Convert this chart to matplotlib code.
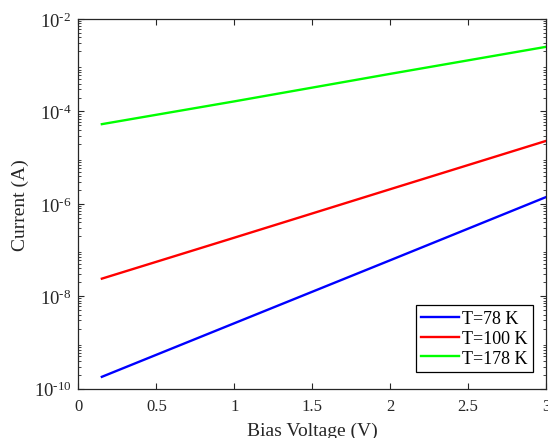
import matplotlib
matplotlib.use("Agg")
import matplotlib.pyplot as plt

# Values (log-scale current vs bias voltage)
voltage = [0.15, 1.0, 2.0, 3.0]
current_78K = [1.8e-10, 2.6e-9, 6.0e-8, 1.4e-6]
current_100K = [2.4e-8, 1.85e-7, 2.07e-6, 2.3e-5]
current_178K = [5.3e-5, 1.65e-4, 6.5e-4, 2.5e-3]
labels = ["T=78 K", "T=100 K", "T=178 K"]
colors = ["#0000ff", "#ff0000", "#00ff00"]
ytick_vals = [1e-10, 1e-8, 1e-6, 1e-4, 1e-2]
ytick_labels = ["$10^{\\text{-10}}$", "$10^{\\text{-8}}$", "$10^{\\text{-6}}$",
                "$10^{\\text{-4}}$", "$10^{\\text{-2}}$"]
xtick_vals = [0, 0.5, 1, 1.5, 2, 2.5, 3]
xtick_labels = ["0", "0.5", "1", "1.5", "2", "2.5", "3"]

plt.rcParams["font.family"] = ["Liberation Serif", "DejaVu Serif"]
plt.rcParams["mathtext.fontset"] = "custom"
plt.rcParams["mathtext.rm"] = "Liberation Serif"
plt.rcParams["mathtext.it"] = "Liberation Serif:italic"
plt.rcParams["mathtext.bf"] = "Liberation Serif:bold"

fig = plt.figure(figsize=(5.48, 4.39), dpi=100)
ax = fig.add_axes([0.1432, 0.1125, 0.8532, 0.8419])

for ys, lab, c in zip([current_78K, current_100K, current_178K], labels, colors):
    ax.plot(voltage, ys, color=c, linewidth=1.7, label=lab)

ax.set_yscale("log")
ax.set_xlim(0, 3)
ax.set_ylim(1e-10, 1e-2)
ax.set_yticks(ytick_vals)
ax.set_yticklabels(ytick_labels)
ax.set_xticks(xtick_vals)
ax.set_xticklabels(xtick_labels)
ax.minorticks_on()
ax.xaxis.set_minor_locator(matplotlib.ticker.NullLocator())

ax.tick_params(which="both", direction="in", top=True, right=True, colors="#262626")
ax.tick_params(which="major", length=4.5, width=0.8)
ax.tick_params(which="minor", length=2.5, width=0.6)
ax.tick_params(axis="x", pad=7, labelsize=12)
ax.tick_params(axis="y", pad=5, labelsize=13.5)
for s in ax.spines.values():
    s.set_color("#262626")
    s.set_linewidth(0.9)

ax.set_xlabel("Bias Voltage (V)", fontsize=14, color="#262626", labelpad=5)
ax.set_ylabel("Current (A)", fontsize=14, color="#262626", labelpad=3)

leg = ax.legend(loc="lower right", bbox_to_anchor=(0.972, 0.045), borderaxespad=0,
                fontsize=13, fancybox=False, edgecolor="black", framealpha=1,
                handlelength=2.1, labelspacing=0.15, handletextpad=0.15, borderpad=0.3)
leg.get_frame().set_linewidth(0.9)

fig.savefig("out.png", dpi=100)
